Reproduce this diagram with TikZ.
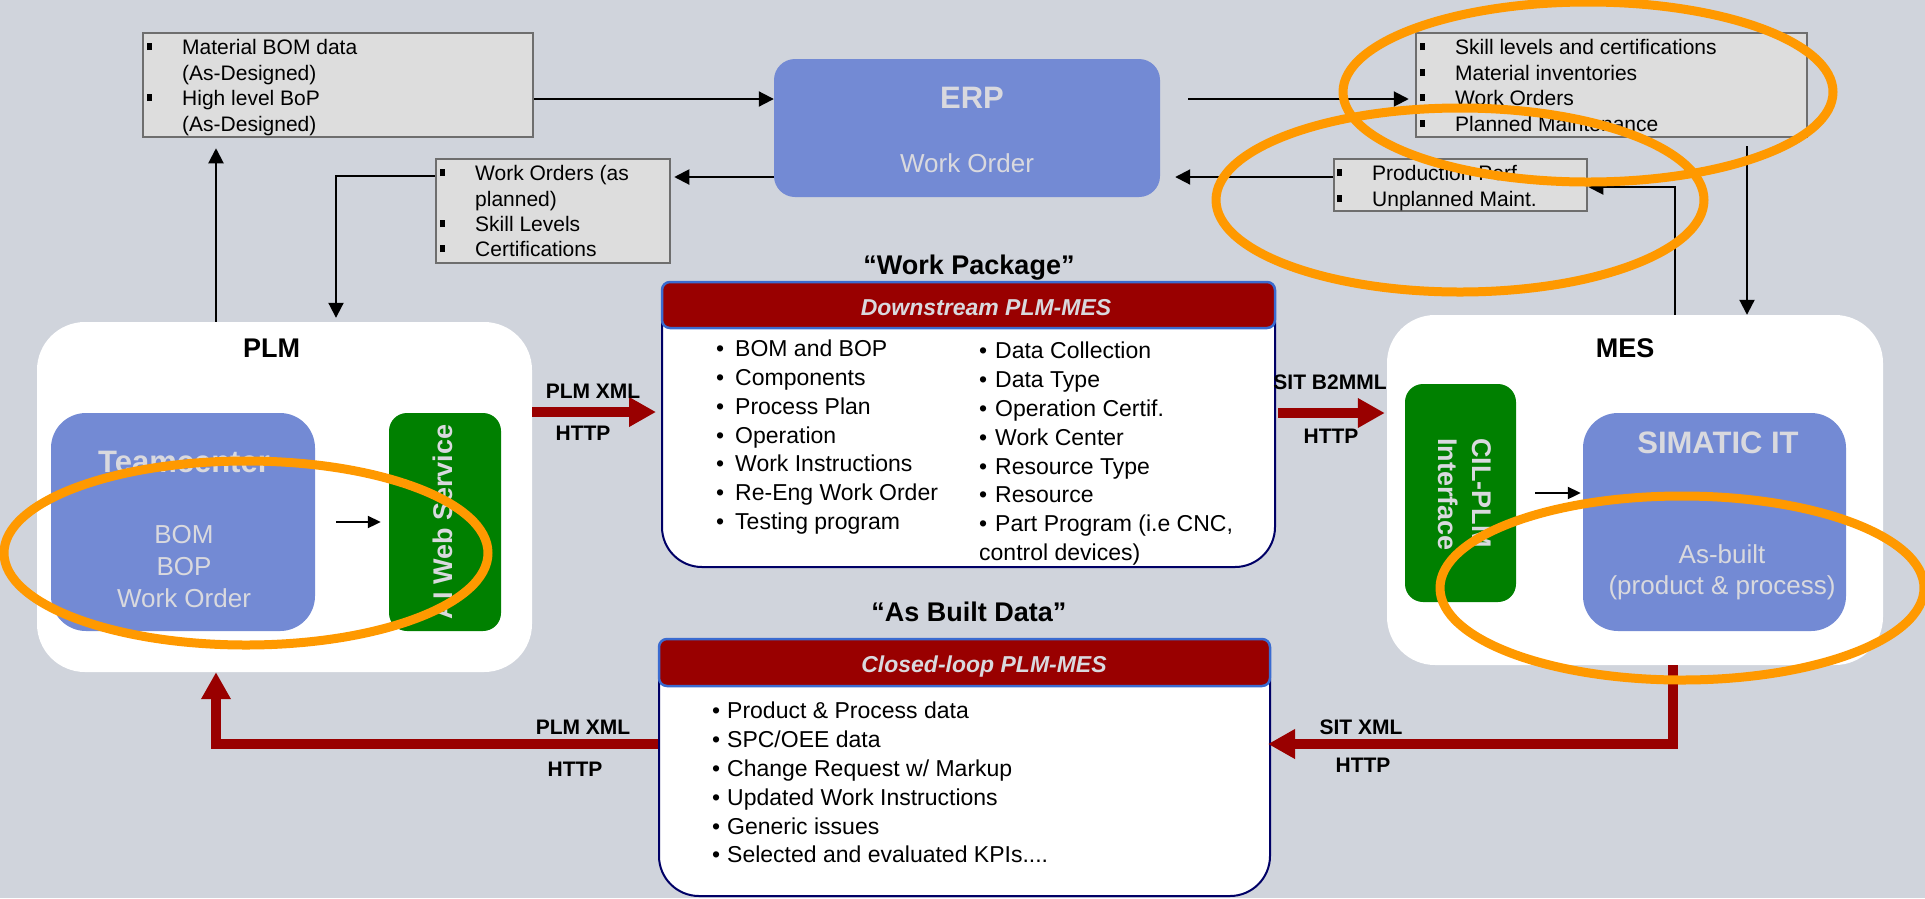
\documentclass[tikz,border=0pt]{standalone}
\usepackage{fontspec}
\setmainfont{Liberation Sans}
\usetikzlibrary{arrows.meta}
\definecolor{bg}{HTML}{D0D4DC}
\definecolor{gfill}{HTML}{DDDDDD}
\definecolor{gline}{HTML}{6E6E6E}
\definecolor{bluebox}{HTML}{738AD4}
\definecolor{lighttxt}{HTML}{D9D9DE}
\definecolor{grn}{HTML}{008000}
\definecolor{dred}{HTML}{990000}
\definecolor{navy}{HTML}{000066}
\definecolor{hdrblue}{HTML}{3A6BD0}
\definecolor{orng}{HTML}{FF9900}
\newcommand{\fsz}[1]{\fontsize{#1pt}{#1pt}\selectfont}
\newcommand{\sqbul}{\llap{\rule[4pt]{5pt}{7pt}\hspace{30pt}}}
\newcommand{\rbul}[1]{\llap{\textbullet\hspace{#1pt}}}
\begin{document}
\begin{tikzpicture}[x=1pt,y=-1pt,
 gbox/.style={draw=gline, line width=2.5pt, fill=gfill, inner sep=0pt},
 bbox/.style={fill=bluebox, inner sep=0pt},
 wbox/.style={fill=white, rounded corners=48pt, inner sep=0pt},
 grbox/.style={fill=grn, rounded corners=18pt, inner sep=0pt},
 gtxt/.style={font=\fsz{21}, anchor=base west, inner sep=0pt},
 ltxt/.style={font=\fsz{23}, anchor=base west, inner sep=0pt},
 lbl/.style={font=\fsz{21}\bfseries, anchor=base, inner sep=0pt},
 ttl/.style={font=\fsz{27}\bfseries, anchor=base, inner sep=0pt},
 htxt/.style={font=\fsz{23}\bfseries\itshape, text=lighttxt, anchor=base, inner sep=0pt},
 wtxt/.style={text=lighttxt, anchor=base, inner sep=0pt},
 conn/.style={draw=black, line width=2pt, -{Triangle[length=15pt,width=15pt]}},
 sconn/.style={draw=black, line width=2pt, -{Triangle[length=13pt,width=12pt]}},
 redarr/.style={draw=dred, line width=10pt, line join=miter, -{Triangle[length=27pt,width=28pt]}},
 oval/.style={draw=orng, line width=9pt},
]
\useasboundingbox (0,0) rectangle (1925,898);
\fill[bg] (0,0) rectangle (1925,898);

% helper coordinates
\coordinate (cx216) at (216,0);
\coordinate (cx336) at (336,0);
\coordinate (cx1673) at (1673,0);
\coordinate (cx1675) at (1675,0);
\coordinate (cx1747) at (1747,0);
\coordinate (cy99) at (0,99);
\coordinate (cy176) at (0,176);
\coordinate (cy177) at (0,177);
\coordinate (cy187) at (0,187);
\coordinate (cy412) at (0,412);
\coordinate (cy413) at (0,413);
\coordinate (cy493) at (0,493);
\coordinate (cy522) at (0,522);
\coordinate (cy744) at (0,744);

% grey data boxes
\node[gbox, minimum width=390pt, minimum height=104pt] (matbom) at (338,85) {};
\node[gbox, minimum width=234pt, minimum height=104pt] (wo) at (553,211) {};
\node[gbox, minimum width=391pt, minimum height=104pt] (skill) at (1611.5,85) {};
\node[gbox, minimum width=253pt, minimum height=52pt] (prod) at (1460.5,185) {};

% ERP
\node[bbox, rounded corners=21pt, minimum width=386pt, minimum height=138pt] (erp) at (967,128) {};

% PLM
\node[wbox, minimum width=495pt, minimum height=350pt] (plm) at (284.5,497) {};
\node[bbox, rounded corners=35pt, minimum width=264pt, minimum height=218pt] (tc) at (183,522) {};
\node[grbox, minimum width=112pt, minimum height=218pt] (ai) at (445,522) {};

% MES
\node[wbox, minimum width=496pt, minimum height=350pt] (mes) at (1635,490) {};
\node[grbox, minimum width=111pt, minimum height=218pt] (cil) at (1460.5,493) {};
\node[bbox, rounded corners=35pt, minimum width=263pt, minimum height=218pt] (sim) at (1714.5,522) {};

% package boxes
\node[draw=navy, line width=2pt, fill=white, rounded corners=40pt, minimum width=613pt, minimum height=285pt, inner sep=0pt] (dsbody) at (968.5,424.5) {};
\node[draw=hdrblue, line width=2.5pt, fill=dred, rounded corners=8pt, minimum width=613pt, minimum height=46pt, inner sep=0pt] (dshead) at (968.5,305) {};
\node[draw=navy, line width=2pt, fill=white, rounded corners=40pt, minimum width=611pt, minimum height=257pt, inner sep=0pt] (clbody) at (964.5,767.5) {};
\node[draw=hdrblue, line width=2.5pt, fill=dred, rounded corners=8pt, minimum width=611pt, minimum height=47pt, inner sep=0pt] (clhead) at (964.5,662.5) {};

% black connectors
\draw[conn, shorten >=10pt] (cx216 |- plm.north) -- (cx216 |- matbom.south);
\draw[conn] (matbom.east |- cy99) -- (erp.west |- cy99);
\draw[conn, shorten <=28pt, shorten >=6pt] (erp.east |- cy99) -- (skill.west |- cy99);
\draw[conn, shorten >=15pt] (prod.west |- cy177) -- (erp.east |- cy177);
\draw[conn, shorten >=3pt] (erp.west |- cy177) -- (wo.east |- cy177);
\draw[conn, shorten >=4pt] (wo.west |- cy176) -| (cx336 |- plm.north);
\draw[conn, shorten <=8pt] (cx1747 |- skill.south) -- (cx1747 |- mes.north);
\draw[conn] (cx1675 |- mes.north) |- (prod.east |- cy187);
\draw[sconn, shorten <=21pt, shorten >=8pt] (tc.east |- cy522) -- (ai.west |- cy522);
\draw[sconn, shorten <=19pt, shorten >=2pt] (cil.east |- cy493) -- (sim.west |- cy493);

% red connectors
\draw[redarr, shorten >=5pt] (plm.east |- cy412) -- (dsbody.west |- cy412);
\draw[redarr, shorten <=2pt, shorten >=2pt] (dsbody.east |- cy413) -- (mes.west |- cy413);
\draw[redarr] (clbody.west |- cy744) -| (cx216 |- plm.south);
\draw[redarr, shorten >=-3pt] (cx1673 |- mes.south) |- (clbody.east |- cy744);

% grey box texts
\node[gtxt] (m1) at (182,54) {\sqbul Material BOM data};
\node[gtxt] (m2) at (182,80) {(As-Designed)};
\node[gtxt] (m3) at (182,105) {\sqbul High level BoP};
\node[gtxt] (m4) at (182,131) {(As-Designed)};
\node[gtxt] (w1) at (475,180) {\sqbul Work Orders (as};
\node[gtxt] (w2) at (475,206) {planned)};
\node[gtxt] (w3) at (475,231) {\sqbul Skill Levels};
\node[gtxt] (w4) at (475,256) {\sqbul Certifications};
\node[gtxt] (s1) at (1455,54) {\sqbul Skill levels and certifications};
\node[gtxt] (s2) at (1455,80) {\sqbul Material inventories};
\node[gtxt] (s3) at (1455,105) {\sqbul Work Orders};
\node[gtxt] (s4) at (1455,131) {\sqbul Planned Maintenance};
\node[gtxt] (p1) at (1372,180) {\sqbul Production Perf.};
\node[gtxt] (p2) at (1372,206) {\sqbul Unplanned Maint.};

% ERP texts
\node[wtxt, font=\fsz{31}\bfseries] (erplbl) at (972,108) {ERP};
\node[wtxt, font=\fsz{26}] (erpwo) at (967,172) {Work Order};

% PLM texts
\node[ttl] (plmlbl) at (271.5,357) {PLM};
\node[wtxt, font=\fsz{31}\bfseries] (tclbl) at (184,472) {Teamcenter};
\node[wtxt, font=\fsz{26}] (tc1) at (184,543) {BOM};
\node[wtxt, font=\fsz{26}] (tc2) at (184,575) {BOP};
\node[wtxt, font=\fsz{26}] (tc3) at (184,607) {Work Order};
\node[font=\fsz{27}\bfseries, text=lighttxt, rotate=90, inner sep=0pt] (ailbl) at (443,522) {AI Web Service};

% MES texts
\node[ttl] (meslbl) at (1625,357) {MES};
\node[font=\fsz{27}\bfseries, text=lighttxt, rotate=-90, anchor=base west, inner sep=0pt] (cil1) at (1472,438) {CIL-PLM};
\node[font=\fsz{27}\bfseries, text=lighttxt, rotate=-90, anchor=base west, inner sep=0pt] (cil2) at (1438,438) {Interface};
\node[wtxt, font=\fsz{31}\bfseries] (simlbl) at (1718,453) {SIMATIC IT};
\node[wtxt, font=\fsz{26}] (sim1) at (1722,563) {As-built};
\node[wtxt, font=\fsz{26}] (sim2) at (1722,594) {(product \& process)};

% titles and headers
\node[ttl] (wptitle) at (969,274) {“Work Package”};
\node[ttl] (abtitle) at (969,621) {“As Built Data”};
\node[htxt] (dshtxt) at (986,315) {Downstream PLM-MES};
\node[htxt] (clhtxt) at (984,672) {Closed-loop PLM-MES};

% protocol labels
\node[lbl] (lb1) at (593,398) {PLM XML};
\node[lbl] (lb2) at (583,440) {HTTP};
\node[lbl] (lb3) at (1330,389) {SIT B2MML};
\node[lbl] (lb4) at (1331,443) {HTTP};
\node[lbl] (lb5) at (583,734) {PLM XML};
\node[lbl] (lb6) at (575,776) {HTTP};
\node[lbl] (lb7) at (1361,734) {SIT XML};
\node[lbl] (lb8) at (1363,772) {HTTP};

% downstream lists
\node[ltxt] (d1) at (735,356) {\rbul{11}BOM and BOP};
\node[ltxt] (d2) at (735,385) {\rbul{11}Components};
\node[ltxt] (d3) at (735,414) {\rbul{11}Process Plan};
\node[ltxt] (d4) at (735,443) {\rbul{11}Operation};
\node[ltxt] (d5) at (735,471) {\rbul{11}Work Instructions};
\node[ltxt] (d6) at (735,500) {\rbul{11}Re-Eng Work Order};
\node[ltxt] (d7) at (735,529) {\rbul{11}Testing program};
\node[ltxt] (e1) at (995,358) {\rbul{8}Data Collection};
\node[ltxt] (e2) at (995,387) {\rbul{8}Data Type};
\node[ltxt] (e3) at (995,416) {\rbul{8}Operation Certif.};
\node[ltxt] (e4) at (995,445) {\rbul{8}Work Center};
\node[ltxt] (e5) at (995,474) {\rbul{8}Resource Type};
\node[ltxt] (e6) at (995,502) {\rbul{8}Resource};
\node[ltxt] (e7) at (995,531) {\rbul{8}Part Program (i.e CNC,};
\node[ltxt] (e8) at (979,560) {control devices)};

% closed-loop list
\node[ltxt] (c1) at (727,718) {\rbul{7}Product \& Process data};
\node[ltxt] (c2) at (727,747) {\rbul{7}SPC/OEE data};
\node[ltxt] (c3) at (727,776) {\rbul{7}Change Request w/ Markup};
\node[ltxt] (c4) at (727,805) {\rbul{7}Updated Work Instructions};
\node[ltxt] (c5) at (727,834) {\rbul{7}Generic issues};
\node[ltxt] (c6) at (727,862) {\rbul{7}Selected and evaluated KPIs....};

% orange highlight ellipses
\draw[oval] (1588,92) ellipse [x radius=245pt, y radius=90pt];
\draw[oval] (1460,200) ellipse [x radius=244pt, y radius=92pt];
\draw[oval] (246,553) ellipse [x radius=242pt, y radius=92pt];
\draw[oval] (1682,588) ellipse [x radius=242pt, y radius=92pt];
\end{tikzpicture}
\end{document}
